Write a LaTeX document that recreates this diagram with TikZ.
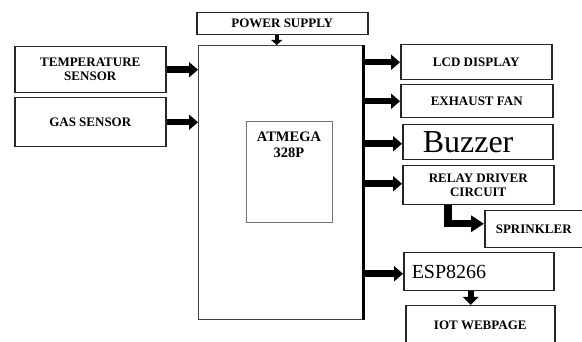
\documentclass[tikz,border=0pt]{standalone}
\usepackage{fontspec}
\setmainfont{Liberation Serif}
\usetikzlibrary{arrows.meta}

\begin{document}
\begin{tikzpicture}[x=1pt, y=-1pt,
  box/.style={draw=black!85, line width=1.5pt, inner sep=0pt, anchor=north west,
    align=center, font=\fontsize{13}{14}\selectfont\bfseries},
  bus/.style={line width=6.5pt, -{Triangle[length=9pt, width=15pt]}}]
  % Khung trang
  \useasboundingbox (0,0) rectangle (582,342);
  \clip (0,0) rectangle (582,342);

  % Khối nguồn và cảm biến
  \node[box, minimum width=171pt, minimum height=22pt] (power) at (196,12) {POWER SUPPLY};
  \node[box, minimum width=151pt, minimum height=46pt] (temp) at (14,46) {TEMPERATURE\\SENSOR};
  \node[box, minimum width=151pt, minimum height=49pt] (gas) at (14,97) {GAS SENSOR};

  % Vi điều khiển
  \node[box, draw=black!75, line width=1.2pt, minimum width=164pt, minimum height=274pt] (main) at (198,45) {};
  \draw[line width=2.8pt] (main.north east) -- (main.south east);
  \node[box, draw=black!55, line width=0.8pt, minimum width=86pt, minimum height=101pt] (chip) at (246,121) {};
  \node[anchor=north, inner sep=0pt, align=center, font=\fontsize{14.5}{16}\selectfont\bfseries] (chiplabel) at (289,132) {ATMEGA\\328P};

  % Khối đầu ra
  \node[box, minimum width=151pt, minimum height=35pt] (lcd) at (400,44) {LCD DISPLAY};
  \node[box, minimum width=152pt, minimum height=33pt] (fan) at (400,84) {EXHAUST FAN};
  \node[box, minimum width=150pt, minimum height=35pt, text width=110pt, inner xsep=20pt, align=left,
    font=\fontsize{32}{34}\selectfont] (buzzer) at (402,124) {Buzzer};
  \node[box, minimum width=151pt, minimum height=39pt] (relay) at (402,165) {RELAY DRIVER\\CIRCUIT};
  \node[box, minimum width=110pt, minimum height=37pt] (sprinkler) at (484,210) {\hspace*{-12pt}SPRINKLER};
  \node[box, minimum width=150pt, minimum height=38pt, text width=134pt, inner xsep=8pt, align=left,
    font=\fontsize{20}{22}\selectfont] (esp) at (403,252) {ESP8266};
  \node[box, minimum width=149pt, minimum height=39pt] (iot) at (405,305) {IOT WEBPAGE};

  % Mũi tên vào
  \draw[line width=4pt, -{Triangle[length=5pt, width=11pt]}] ([xshift=-5.5pt]power.south) -- ([xshift=-5.5pt]power.south |- main.north);
  \draw[bus] (temp.east) -- (temp.east -| main.west);
  \draw[bus] (gas.east) -- (gas.east -| main.west);

  % Mũi tên ra
  \draw[bus] (lcd.west -| main.east) -- (lcd.west);
  \draw[bus] (fan.west -| main.east) -- (fan.west);
  \draw[bus] ([yshift=-1.5pt]buzzer.west -| main.east) -- ([yshift=-1.5pt]buzzer.west);
  \draw[bus] ([yshift=1.5pt]relay.west -| main.east) -- ([yshift=1.5pt]relay.west);
  \draw[bus] ([yshift=-2pt]esp.west -| main.east) -- ([yshift=-2pt]esp.west);

  % Rơ-le tới bình phun, ESP tới trang web
  \draw[line width=7.5pt, -{Triangle[length=13pt, width=16pt]}] ([xshift=-30.5pt]relay.south) |- ([yshift=5.5pt]sprinkler.west);
  \draw[line width=6.5pt, -{Triangle[length=8pt, width=15pt]}] ([xshift=-8pt]esp.south) -- ([xshift=-8pt]esp.south |- iot.north);
\end{tikzpicture}
\end{document}
